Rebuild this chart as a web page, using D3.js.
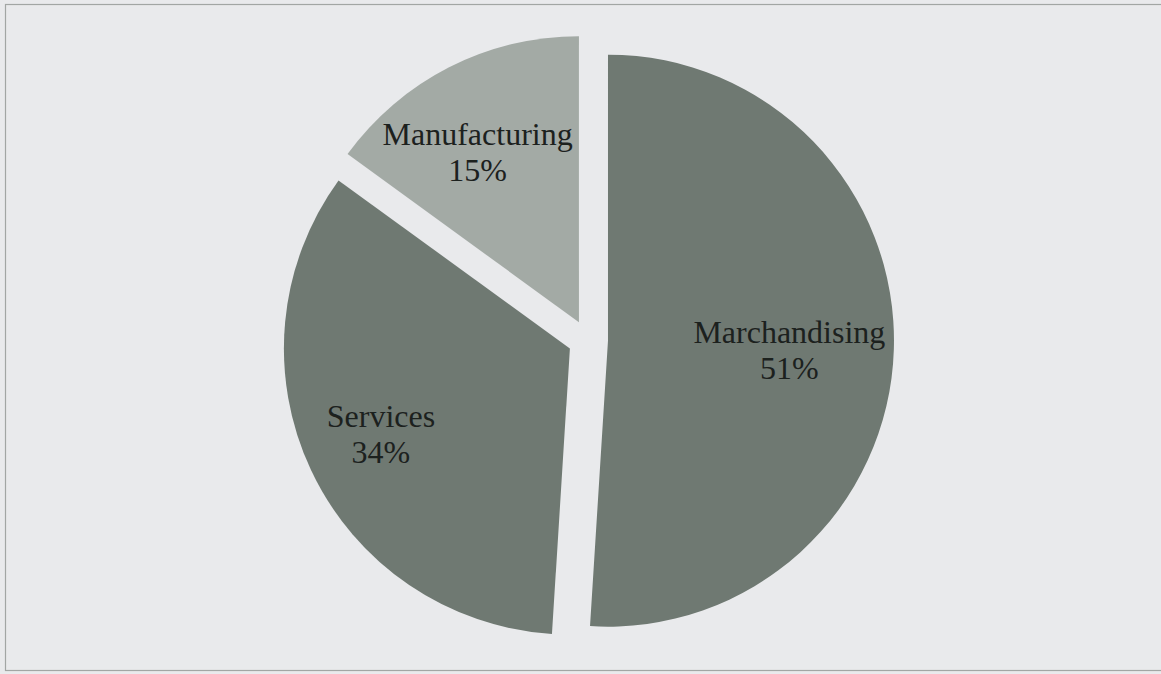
<!DOCTYPE html>
<html>
<head>
<meta charset="utf-8">
<script src="https://cdn.jsdelivr.net/npm/d3@7"></script>
<style>
  html, body { margin: 0; padding: 0; background: #e9eaec; }
  svg { display: block; }
</style>
</head>
<body>
<svg id="chart" width="1161" height="674"></svg>
<script>
// Share of businesses by type
const categories = ["Marchandising", "Services", "Manufacturing"];
const shares = [51, 34, 15];
const percentLabels = ["51%", "34%", "15%"];
const sliceColors = ["#6f7972", "#6f7972", "#a3aaa5"];

const width = 1161, height = 674;
const cx = 588, cy = 340, radius = 286, explode = 20;

const svg = d3.select("#chart");

svg.append("rect")
  .attr("x", 0).attr("y", 0).attr("width", width).attr("height", height)
  .attr("fill", "#e9eaec");

svg.append("rect")
  .attr("x", 5.5).attr("y", 4.5).attr("width", 1160).attr("height", 666)
  .attr("fill", "none").attr("stroke", "#a2a6a4").attr("stroke-width", 1.2);

const data = categories.map((c, i) => ({ name: c, value: shares[i], label: percentLabels[i], color: sliceColors[i] }));

const pie = d3.pie().value(d => d.value).sort(null);
const arcs = pie(data);

const arc = d3.arc().innerRadius(0).outerRadius(radius);
const labelArc = d3.arc().innerRadius(radius * 0.68).outerRadius(radius * 0.68);

const g = svg.append("g").attr("transform", `translate(${cx},${cy})`);

const slice = g.selectAll("g.slice")
  .data(arcs)
  .join("g")
  .attr("class", "slice")
  .attr("transform", d => {
    const mid = (d.startAngle + d.endAngle) / 2;
    return `translate(${Math.sin(mid) * explode},${-Math.cos(mid) * explode})`;
  });

slice.append("path")
  .attr("d", arc)
  .attr("fill", d => d.data.color);

// labels sit a little left of the slice centroid
const text = slice.append("text")
  .attr("transform", d => {
    const [x, y] = labelArc.centroid(d);
    return `translate(${x - 13},${y + 2})`;
  })
  .attr("text-anchor", "middle")
  .attr("font-family", "'Liberation Serif', 'Times New Roman', serif")
  .attr("font-size", 32)
  .attr("fill", "#1c211e");

text.append("tspan").attr("x", 0).attr("y", -6).text(d => d.data.name);
text.append("tspan").attr("x", 0).attr("y", 30).text(d => d.data.label);
</script>
</body>
</html>
